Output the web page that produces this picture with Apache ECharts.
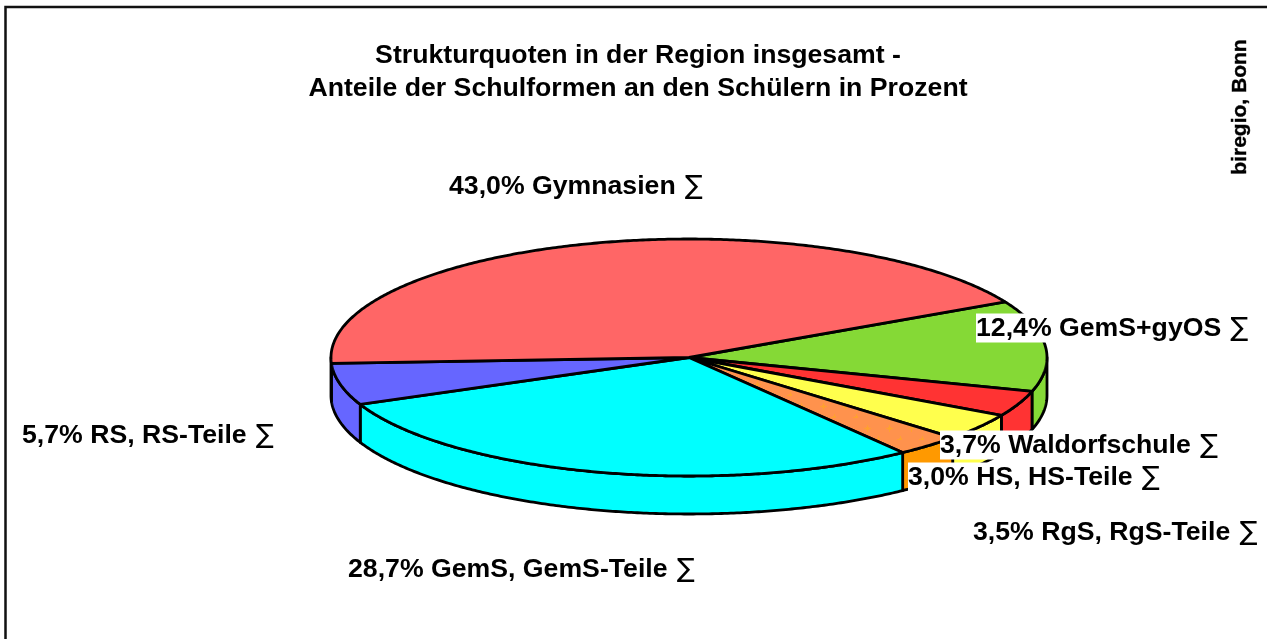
<!DOCTYPE html>
<html><head><meta charset="utf-8">
<style>html,body{margin:0;padding:0;background:#fff}#c{width:1267px;height:639px}</style>
<script src="https://cdn.jsdelivr.net/npm/echarts@6/dist/echarts.min.js"></script>
</head><body><div id="c"></div>
<script>
// Data, clockwise from the slice boundary at the upper right
const categories = ['GemS+gyOS','RgS, RgS-Teile','Waldorfschule','HS, HS-Teile','GemS, GemS-Teile','RS, RS-Teile','Gymnasien'];
const shares = [12.4,3.5,3.7,3.0,28.7,5.7,43.0];
const title1 = 'Strukturquoten in der Region insgesamt -';
const title2 = 'Anteile der Schulformen an den Schülern in Prozent';
const credit = 'biregio, Bonn';

// Style and layout
const topColors = ['#85D936','#FF3333','#FFFF4D','#FF9A4D','#00FFFF','#6666FF','#FF6666'];
const wallColors = ['#85D936','#FF3333','#FFFF4D','#FF9900','#00FFFF','#6666FF','#FF6666'];
const labelAnchors = [[976,328],[973,533],[940,445],[908,477],[348,570],[22,436],[449,187]];
const cx=689, cy=357.5, rx=358, ry=118.5, depth=38, startDeg=-28;
const FONT='"Liberation Sans",Arial,sans-serif';

function dotted(){
  const c=document.createElement('canvas');c.width=c.height=22;
  const g=c.getContext('2d');g.fillStyle='#FF924D';g.fillRect(0,0,22,22);
  [[9,10],[20,21]].forEach(p=>{
    g.fillStyle='#FFA030';
    g.fillRect(p[0]-3,p[1],7,1);g.fillRect(p[0],p[1]-3,1,7);
    g.fillRect(p[0]-1,p[1]-1,3,3);
  });
  return {image:c,repeat:'repeat'};
}
const pat=dotted();
const total=shares.reduce((a,b)=>a+b,0);
function pt(deg,dy){const a=deg*Math.PI/180;return [cx+rx*Math.cos(a),cy+ry*Math.sin(a)+(dy||0)];}
function arc(a,b,dy){const o=[];const n=Math.max(2,Math.ceil(Math.abs(b-a)*2));for(let i=0;i<=n;i++)o.push(pt(a+(b-a)*i/n,dy));return o;}
const lineStyle={stroke:'#000',lineWidth:2.8,lineJoin:'round'};

function renderItem(params,api){
  const i=api.value(0),v=api.value(1);
  let before=0;for(let k=0;k<i;k++)before+=shares[k];
  const a0=startDeg+before/total*360,a1=a0+v/total*360;
  const kids=[];
  // visible front wall: clip the slice to the front half of the ellipse
  const w0=Math.max(a0,0),w1=Math.min(a1,180);
  if(w1>w0){
    kids.push({type:'polygon',z2:1,shape:{points:arc(w0,w1,0).concat(arc(w1,w0,depth))},
      style:Object.assign({fill:wallColors[i]},lineStyle)});
  }
  kids.push({type:'polygon',z2:2,shape:{points:[[cx,cy]].concat(arc(a0,a1,0))},
    style:Object.assign({fill:i===3?pat:topColors[i]},lineStyle)});
  return {type:'group',children:kids};
}
function sharesText(v){return v.toFixed(1).replace('.',',')+'%';}
const labels=categories.map((c,i)=>{
  const style={rich:{b:{font:'bold 26.67px '+FONT,fill:'#000'},s:{font:'26.67px "DejaVu Sans"',fill:'#000',padding:[0,0,0,2]}},
    text:'{b|'+sharesText(shares[i])+' '+c+' }{s|∑}',verticalAlign:'middle'};
  if(i===0||i===2||i===3){style.backgroundColor='#fff';style.padding=[2,0,0,0];}
  return {type:'text',x:labelAnchors[i][0],y:labelAnchors[i][1],z:10+(i===3?2:i===2?1:0),style};
});

const chart=echarts.init(document.getElementById('c'),null,{renderer:'canvas'});
chart.setOption({
  animation:false,
  series:[{type:'custom',coordinateSystem:'none',renderItem:renderItem,
    data:shares.map((v,i)=>({name:categories[i],value:[i,v]})),silent:true}],
  graphic:[
    {type:'rect',z:0,shape:{x:5.5,y:7,width:1300,height:700},style:{fill:'#fff',stroke:'#111',lineWidth:2.5}},
    {type:'text',x:638,y:72,z:10,style:{text:title1+'\n'+title2,font:'bold 26.67px '+FONT,fill:'#000',align:'center',verticalAlign:'middle',lineHeight:33}},
    {type:'text',x:1240,y:107,z:10,rotation:Math.PI/2,style:{text:credit,font:'bold 21px '+FONT,fill:'#000',stroke:'#000',lineWidth:0.4,align:'center',verticalAlign:'middle'}}
  ].concat(labels)
});
</script></body></html>
